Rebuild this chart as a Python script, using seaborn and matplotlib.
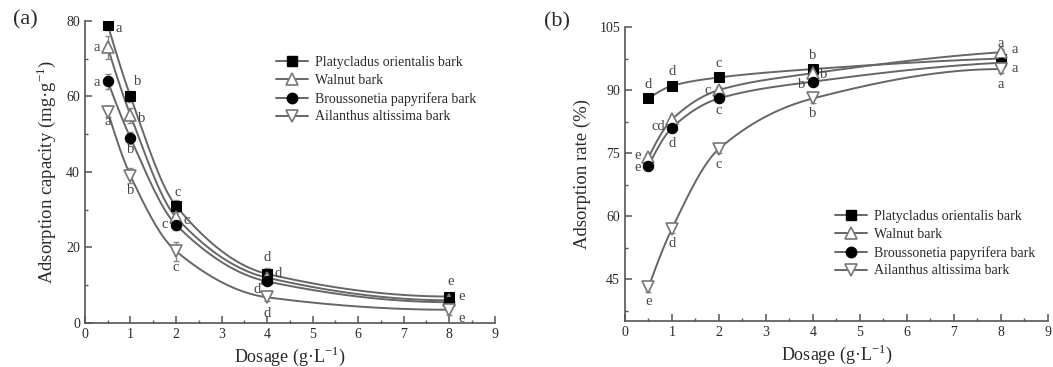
import numpy as np
import matplotlib
matplotlib.use("Agg")
import matplotlib.pyplot as plt
from matplotlib.lines import Line2D
from matplotlib.ticker import MultipleLocator
import seaborn as sns

# ---------------- data ----------------
dosage = [0.5, 1, 2, 4, 8]
series_names = ["Platycladus orientalis bark", "Walnut bark",
                "Broussonetia papyrifera bark", "Ailanthus altissima bark"]

cap_plat = [79, 60, 31, 13, 7]
cap_walnut = [73, 55, 28, 12, 6]
cap_brous = [64, 49, 26, 11, 5.5]
cap_ailan = [56, 39, 19, 6.8, 3.5]
cap_err_plat = [1.5, 1.5, 1.5, 1.5, 1.0]
cap_err_walnut = [3.0, 2.0, 1.5, 1.0, 1.0]
cap_err_brous = [2.0, 1.5, 1.5, 1.0, 1.0]
cap_err_ailan = [1.5, 2.0, 2.5, 1.0, 1.5]

rate_plat = [88, 91, 93, 95, 97.5]
rate_walnut = [74, 83, 90, 94, 99]
rate_brous = [72, 81, 88, 92, 96.5]
rate_ailan = [43, 57, 76, 88, 95]
rate_err_plat = [0.5, 0.5, 0.5, 0.8, 0.8]
rate_err_walnut = [0.8, 0.8, 0.8, 0.8, 0.8]
rate_err_brous = [0.8, 0.8, 0.8, 0.8, 0.8]
rate_err_ailan = [1.0, 1.0, 1.0, 1.0, 1.0]

cap_letters_plat = ["a", "b", "c", "d", "e"]
cap_letters_walnut = ["a", "b", "c", "d", "e"]
cap_letters_brous = ["a", "b", "c", "d", ""]
cap_letters_ailan = ["a", "b", "c", "d", "e"]

rate_letters_plat = ["d", "d", "c", "b", "a"]
rate_letters_walnut = ["e", "cd", "c", "b", "a"]
rate_letters_brous = ["e", "d", "c", "b", "a"]
rate_letters_ailan = ["e", "d", "c", "b", "a"]

x_ticks = [0, 1, 2, 3, 4, 5, 6, 7, 8, 9]

# ---------------- style ----------------
sns.set_theme(style="ticks")
plt.rcParams["font.family"] = ["Liberation Serif", "DejaVu Serif"]
plt.rcParams["mathtext.fontset"] = "custom"
plt.rcParams["mathtext.rm"] = "Liberation Serif"

LINE = "#666666"
AX = "#555555"
TXT = "#2a2a2a"

marker_styles = [
    dict(marker="s", mfc="black", mec="black", ms=7),
    dict(marker="^", mfc="white", mec="#777777", ms=9, mew=1.2),
    dict(marker="o", mfc="black", mec="black", ms=7.5),
    dict(marker="v", mfc="white", mec="#777777", ms=9, mew=1.2),
]


def pchip(x, y, xn):
    x = np.asarray(x, float)
    y = np.asarray(y, float)
    h = np.diff(x)
    d = np.diff(y) / h
    n = len(x)
    m = np.zeros(n)
    for k in range(1, n - 1):
        if d[k - 1] * d[k] > 0:
            w1 = 2 * h[k] + h[k - 1]
            w2 = h[k] + 2 * h[k - 1]
            m[k] = (w1 + w2) / (w1 / d[k - 1] + w2 / d[k])

    def end(h0, h1, d0, d1):
        mm = ((2 * h0 + h1) * d0 - h0 * d1) / (h0 + h1)
        if np.sign(mm) != np.sign(d0):
            mm = 0.0
        elif np.sign(d0) != np.sign(d1) and abs(mm) > abs(3 * d0):
            mm = 3 * d0
        return mm

    m[0] = end(h[0], h[1], d[0], d[1])
    m[-1] = end(h[-1], h[-2], d[-1], d[-2])
    idx = np.clip(np.searchsorted(x, xn) - 1, 0, n - 2)
    t = (xn - x[idx]) / h[idx]
    h00 = 2 * t**3 - 3 * t**2 + 1
    h10 = t**3 - 2 * t**2 + t
    h01 = -2 * t**3 + 3 * t**2
    h11 = t**3 - t**2
    return (h00 * y[idx] + h10 * h[idx] * m[idx]
            + h01 * y[idx + 1] + h11 * h[idx] * m[idx + 1])


def draw_panel(ax, ys, errs, letters, offsets):
    xs = np.linspace(dosage[0], dosage[-1], 300)
    for y in ys:
        sns.lineplot(x=xs, y=pchip(dosage, y, xs), color=LINE, lw=1.4,
                     ax=ax, zorder=2)
    for i, (y, e) in enumerate(zip(ys, errs)):
        ax.errorbar(dosage, y, yerr=e, fmt="none", ecolor="#888888",
                    elinewidth=1, capsize=2, zorder=3)
        sns.lineplot(x=dosage, y=y, linestyle="", ax=ax, zorder=4,
                     color="black", **marker_styles[i])
    for i, y in enumerate(ys):
        for j, lab in enumerate(letters[i]):
            if lab:
                ax.annotate(lab, (dosage[j], y[j]), xytext=offsets[i][j],
                            textcoords="offset points", ha="center",
                            va="center", fontsize=10.5, color="#444444",
                            zorder=5)


fig = plt.figure(figsize=(10.53, 3.67), dpi=100)
ax1 = fig.add_axes([0.0807, 0.120, 0.389, 0.823])
ax2 = fig.add_axes([0.5935, 0.1253, 0.4017, 0.801])

cap_offsets = [
    [(8, -3), (5, 11), (1, 10), (0, 12), (1, 11)],
    [(-8, 0), (8, -2), (8, -2), (8, 3), (9, 3)],
    [(-8, -1), (0, -8), (-8, 0), (-7, -6), (9, -2)],
    [(0, -7), (0, -11), (0, -12), (0, -12), (9, -6)],
]
rate_offsets = [
    [(0, 10), (0, 10), (0, 10), (0, 10), (0, 11)],
    [(-8, 1), (-10, -5), (-8, 0), (8, -1), (10, 2)],
    [(-8, -1), (0, -11), (0, -9), (-8, -2), (10, -4)],
    [(0, -10), (0, -11), (0, -11), (0, -11), (0, -11)],
]

draw_panel(ax1, [cap_plat, cap_walnut, cap_brous, cap_ailan],
           [cap_err_plat, cap_err_walnut, cap_err_brous, cap_err_ailan],
           [cap_letters_plat, cap_letters_walnut, cap_letters_brous,
            cap_letters_ailan], cap_offsets)
draw_panel(ax2, [rate_plat, rate_walnut, rate_brous, rate_ailan],
           [rate_err_plat, rate_err_walnut, rate_err_brous, rate_err_ailan],
           [rate_letters_plat, rate_letters_walnut, rate_letters_brous,
            rate_letters_ailan], rate_offsets)

for ax in (ax1, ax2):
    ax.set_xlim(0, 9)
    ax.set_xticks(x_ticks)
    ax.xaxis.set_minor_locator(MultipleLocator(0.5))
    sns.despine(ax=ax)
    for s in ("left", "bottom"):
        ax.spines[s].set_color(AX)
        ax.spines[s].set_linewidth(1.2)
    ax.tick_params(which="both", direction="in", color=AX, labelcolor=TXT,
                   labelsize=10)
    ax.tick_params(which="major", length=5, width=1.1)
    ax.tick_params(which="minor", length=2.5, width=1)
    ax.set_xlabel(r"Dosage (g·L$^{\mathregular{-1}}$)", fontsize=13,
                  color=TXT, labelpad=3)

ax1.set_ylim(0, 80)
ax1.set_yticks([0, 20, 40, 60, 80])
ax1.yaxis.set_minor_locator(MultipleLocator(10))
ax1.set_ylabel(r"Adsorption capacity (mg·g$^{\mathregular{-1}}$)",
               fontsize=13.5, color=TXT, labelpad=6)

ax2.set_ylim(35, 105)
ax2.set_yticks([45, 60, 75, 90, 105])
ax2.yaxis.set_minor_locator(MultipleLocator(7.5))
ax2.set_ylabel("Adsorption rate (%)", fontsize=13.5, color=TXT, labelpad=6)

handles = [Line2D([], [], color=LINE, lw=1.4, **ms) for ms in marker_styles]
for ax, anchor in ((ax1, (0.435, 0.925)), (ax2, (0.468, 0.42))):
    ax.legend(handles, series_names, loc="upper left", bbox_to_anchor=anchor,
              frameon=False, fontsize=10, handlelength=2.3,
              labelspacing=0.35, handletextpad=0.5, labelcolor=TXT)

fig.text(0.012, 0.945, "(a)", fontsize=16, color=TXT, va="center")
fig.text(0.517, 0.94, "(b)", fontsize=16, color=TXT, va="center")

fig.savefig("out.png", dpi=100)
